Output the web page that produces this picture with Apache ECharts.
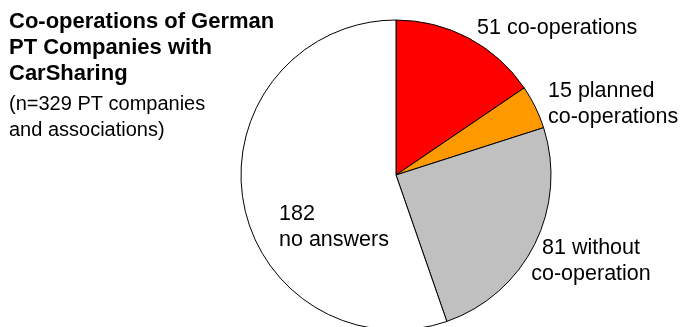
<!DOCTYPE html>
<html>
<head>
<meta charset="utf-8">
<script src="https://cdn.jsdelivr.net/npm/echarts@6/dist/echarts.min.js"></script>
<style>
  html, body { margin: 0; padding: 0; background: #fff; }
  #chart { width: 685px; height: 327px; }
</style>
</head>
<body>
<div id="chart"></div>
<script>
// data
const categories = ['co-operations', 'planned co-operations', 'without co-operation', 'no answers'];
const values = [51, 15, 81, 182];
const labelTexts = ['51 co-operations', '15 planned\nco-operations', '81 without\nco-operation', '182\nno answers'];
const colors = ['#ff0000', '#ff9900', '#c0c0c0', '#ffffff'];

// where each label sits (left/top of text box) and how it is aligned
const labelSpots = [
    { x: 477, y: 15, align: 'left' },
    { x: 548, y: 78, align: 'left' },
    { x: 591, y: 235, align: 'center' },
    { x: 279, y: 201, align: 'left' }
];

const chart = echarts.init(document.getElementById('chart'));

chart.setOption({
    backgroundColor: '#ffffff',
    animation: false,
    title: {
        text: 'Co-operations of German\nPT Companies with\nCarSharing',
        subtext: '(n=329 PT companies\nand associations)',
        left: 9,
        top: 9,
        itemGap: 4,
        padding: 0,
        textStyle: {
            fontFamily: 'Arial, "Liberation Sans", sans-serif',
            fontSize: 22,
            fontWeight: 'bold',
            color: '#000',
            lineHeight: 26
        },
        subtextStyle: {
            fontFamily: 'Arial, "Liberation Sans", sans-serif',
            fontSize: 20,
            color: '#000',
            lineHeight: 26
        }
    },
    series: [{
        type: 'pie',
        center: [396, 175],
        radius: 155,
        startAngle: 90,
        clockwise: true,
        avoidLabelOverlap: false,
        itemStyle: { borderColor: '#000', borderWidth: 1 },
        emphasis: { disabled: true },
        labelLine: { show: false },
        label: {
            show: true,
            position: 'inside',
            formatter: p => labelTexts[p.dataIndex],
            fontFamily: 'Arial, "Liberation Sans", sans-serif',
            fontSize: 21.5,
            lineHeight: 26,
            color: '#000'
        },
        labelLayout: function (params) {
            const s = labelSpots[params.dataIndex];
            return { x: s.x, y: s.y, align: s.align, verticalAlign: 'top' };
        },
        data: categories.map((c, i) => ({
            name: c,
            value: values[i],
            itemStyle: { color: colors[i] }
        }))
    }]
});
</script>
</body>
</html>
